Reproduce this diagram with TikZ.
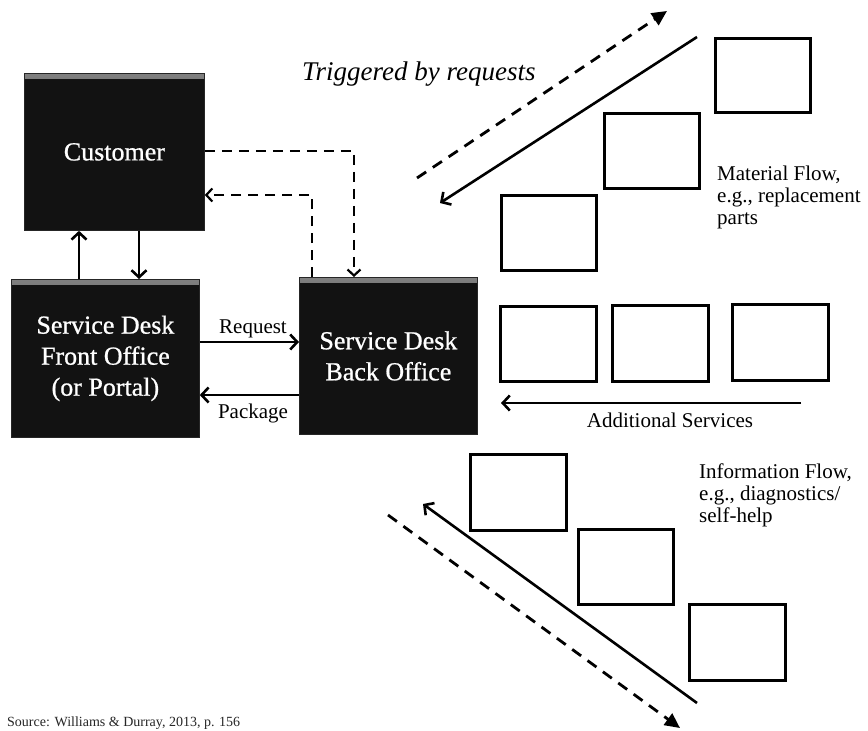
\documentclass[tikz,border=0pt]{standalone}
\usepackage{fontspec}
\setmainfont{Liberation Serif}
\newfontfamily\blockfont[FakeBold=0.8]{Liberation Serif}
\usetikzlibrary{arrows.meta,calc}

\tikzset{
  darkbox/.style={draw=black!85, line width=0.8pt, fill=black!93, text=white,
    anchor=north west, inner sep=0pt, align=center,
    font=\blockfont\fontsize{26}{31}\selectfont,
    path picture={\shade[top color=black!50, bottom color=black!93]
      (path picture bounding box.north west) rectangle
      ([yshift=-5pt]path picture bounding box.north east);}},
  whitebox/.style={draw=black, line width=2.6pt, fill=white, anchor=north west,
    inner sep=0pt},
  flow/.style={line width=2.6pt, -{Straight Barb[length=7pt,width=15pt,line width=2.6pt]}},
  backflow/.style={line width=2.2pt, dash pattern=on 10pt off 7pt,
    -{Straight Barb[length=6pt,width=13pt,line width=2.2pt]}},
  request/.style={line width=2.8pt, dash pattern=on 11pt off 8pt,
    -{Triangle[length=15pt,width=14pt]}},
  lbl/.style={font=\fontsize{21}{22}\selectfont, inner sep=0pt},
}

\begin{document}
\begin{tikzpicture}[x=1pt, y=-1pt]
\clip (0,0) rectangle (868,731);
\fill[white] (0,0) rectangle (868,731);

% service desk blocks
\node[darkbox, minimum width=180pt, minimum height=157pt] (cust) at (24,73) {Customer};
\node[darkbox, minimum width=188pt, minimum height=158pt] (front) at (11,279)
  {Service Desk\\Front Office\\(or Portal)};
\node[darkbox, minimum width=178pt, minimum height=157pt] (back) at (299,277)
  {Service Desk\\Back Office};

% customer <-> front office
\coordinate (xa) at (79,0);
\coordinate (xb) at (139,0);
\draw[flow] (front.north -| xa) -- (cust.south -| xa);
\draw[flow] (cust.south -| xb) -- (front.north -| xb);

% front office <-> back office
\coordinate (yr) at (0,342);
\coordinate (yp) at (0,395);
\draw[flow] (front.east |- yr) -- (back.west |- yr);
\draw[flow] (back.west |- yp) -- (front.east |- yp);
\node[lbl, anchor=base] (req) at (253,333) {Request};
\node[lbl, anchor=base] (pkg) at (253,418) {Package};

% customer <-> back office (dashed)
\coordinate (d1) at (354,151);
\coordinate (d2) at (312,195);
\draw[backflow] (cust.east |- d1) -| (back.north -| d1);
\draw[backflow] (back.north -| d2) |- (cust.east |- d2);

% trigger label
\node[inner sep=0pt, anchor=base west, font=\fontsize{27}{30}\selectfont\itshape]
  (trig) at (302,80) {Triggered by requests};

% material flow
\node[whitebox, minimum width=95pt, minimum height=74pt] (m1) at (714,37) {};
\node[whitebox, minimum width=95pt, minimum height=75pt] (m2) at (603,112) {};
\node[whitebox, minimum width=95pt, minimum height=75pt] (m3) at (500,194) {};
\coordinate (mu0) at (417,178);
\coordinate (mu1) at (667,11);
\coordinate (md0) at (697,37);
\coordinate (md1) at (440,203);
\draw[request] (mu0) -- (mu1);
\draw[flow] (md0) -- (md1);
\node[lbl, anchor=north west, align=left] (mtxt) at (717,166)
  {Material Flow,\\e.g., replacement\\parts};

% additional services
\node[whitebox, minimum width=96pt, minimum height=75pt] (s1) at (499,305) {};
\node[whitebox, minimum width=96pt, minimum height=76pt] (s2) at (611,304) {};
\node[whitebox, minimum width=96pt, minimum height=76pt] (s3) at (731,303) {};
\coordinate (a0) at (801,403);
\coordinate (a1) at (501,403);
\draw[flow] (a0) -- (a1);
\node[lbl, anchor=base] (atxt) at (670,427) {Additional Services};

% information flow
\node[whitebox, minimum width=96pt, minimum height=76pt] (i1) at (469,453) {};
\node[whitebox, minimum width=95pt, minimum height=75pt] (i2) at (577,528) {};
\node[whitebox, minimum width=96pt, minimum height=76pt] (i3) at (688,603) {};
\coordinate (iu0) at (697,703);
\coordinate (iu1) at (423,504);
\coordinate (id0) at (388,515);
\coordinate (id1) at (680,728);
\draw[flow] (iu0) -- (iu1);
\draw[request] (id0) -- (id1);
\node[lbl, anchor=north west, align=left] (itxt) at (699,464)
  {Information Flow,\\e.g., diagnostics/\\self-help};

% source line
\node[inner sep=0pt, anchor=base west, font=\fontsize{14}{16}\selectfont, text=black!85]
  (src) at (7,726) {Source: Williams \& Durray, 2013, p. 156};
\end{tikzpicture}
\end{document}
